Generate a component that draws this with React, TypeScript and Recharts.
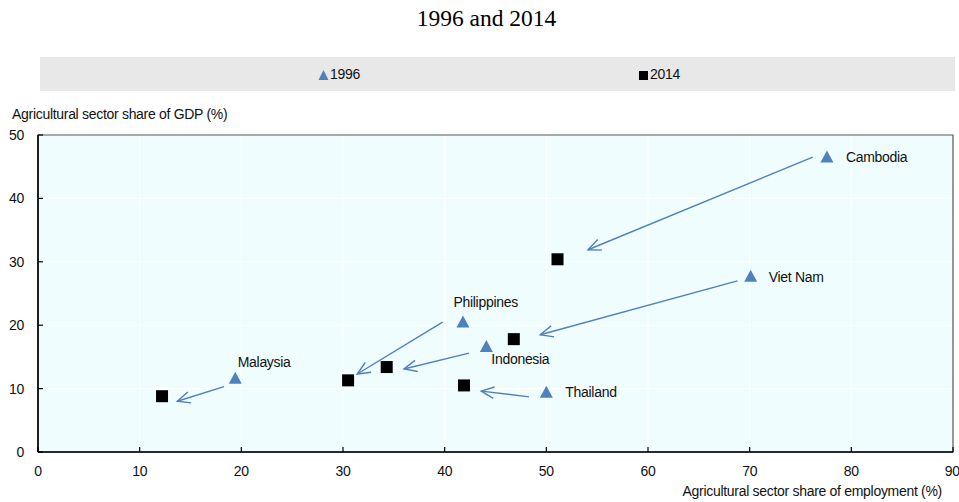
import React from 'react';
import {
  ScatterChart,
  Scatter,
  XAxis,
  YAxis,
  CartesianGrid,
  ReferenceLine,
  ReferenceArea,
} from 'recharts';

// agricultural share of employment (x) and of GDP (y), in %
const countries = ['Cambodia', 'Viet Nam', 'Philippines', 'Indonesia', 'Thailand', 'Malaysia'];
const emp1996 = [77.6, 70.1, 41.8, 44.1, 50.0, 19.4];
const gdp1996 = [46.6, 27.8, 20.6, 16.7, 9.5, 11.7];
const emp2014 = [51.1, 46.8, 30.5, 34.3, 41.9, 12.2];
const gdp2014 = [30.4, 17.8, 11.3, 13.4, 10.5, 8.8];

// arrows drawn from the 1996 point towards the 2014 point (data units)
const arrowTailX = [76.2, 68.8, 39.8, 42.4, 48.3, 18.3];
const arrowTailY = [46.5, 27.0, 20.5, 15.6, 8.7, 10.3];
const arrowHeadX = [54.1, 49.4, 31.4, 36.0, 43.6, 13.7];
const arrowHeadY = [31.9, 18.5, 12.3, 13.1, 9.6, 8.0];

const xTicks = [0, 10, 20, 30, 40, 50, 60, 70, 80, 90];
const yTicks = [0, 10, 20, 30, 40, 50];

const FONT = '"Liberation Sans", Arial, sans-serif';
const LS = -0.3; // squeeze to mimic the narrow face
const BLUE = '#4f81bd';

// where each country name sits relative to its 1996 marker
const labelPlace: Record<string, { dx: number; dy: number }> = {
  Cambodia: { dx: 19, dy: 5.5 },
  'Viet Nam': { dx: 18, dy: 6 },
  Philippines: { dx: -9.5, dy: -14.5 },
  Indonesia: { dx: 5, dy: 17.5 },
  Thailand: { dx: 19, dy: 5 },
  Malaysia: { dx: 2.5, dy: -11 },
};

const data1996 = countries.map((name, i) => ({ name, x: emp1996[i], y: gdp1996[i] }));
const data2014 = countries.map((name, i) => ({ name, x: emp2014[i], y: gdp2014[i] }));

const Triangle = (p: any) => {
  const { cx, cy, payload } = p;
  const pl = labelPlace[payload.name];
  return (
    <g>
      <path d={`M${cx},${cy - 6}L${cx + 6.5},${cy + 6}L${cx - 6.5},${cy + 6}Z`} fill={BLUE} />
      <text
        x={cx + pl.dx}
        y={cy + pl.dy}
        fontFamily={FONT}
        fontSize={14}
        fill="#111"
        style={{ letterSpacing: LS }}
      >
        {payload.name}
      </text>
    </g>
  );
};

const Square = (p: any) => {
  const { cx, cy } = p;
  return <rect x={cx - 6} y={cy - 6} width={12} height={12} fill="#000" />;
};

const Arrow = (p: any) => {
  const { x1, y1, x2, y2 } = p;
  const ang = Math.atan2(y1 - y2, x1 - x2);
  const len = 14;
  const spread = 0.42;
  const a1x = x2 + len * Math.cos(ang + spread);
  const a1y = y2 + len * Math.sin(ang + spread);
  const a2x = x2 + len * Math.cos(ang - spread);
  const a2y = y2 + len * Math.sin(ang - spread);
  return (
    <g fill="none" stroke={BLUE} strokeWidth={1.4}>
      <line x1={x1} y1={y1} x2={x2} y2={y2} />
      <polyline points={`${a1x},${a1y} ${x2},${y2} ${a2x},${a2y}`} />
    </g>
  );
};

const tickStyle = { fontFamily: FONT, fontSize: 14, fill: '#111', letterSpacing: LS, style: { letterSpacing: LS } };
const narrow = { fontFamily: FONT, fontSize: 14, color: '#111', whiteSpace: 'nowrap' as const, letterSpacing: LS };

const LegendMark = ({ kind }: { kind: 'tri' | 'sq' }) => (
  <svg width={11} height={10} style={{ display: 'inline-block', verticalAlign: '-1px', marginRight: 1 }}>
    {kind === 'tri' ? (
      <path d="M5.5,0L10.5,10L0.5,10Z" fill={BLUE} />
    ) : (
      <rect x={1} y={1} width={9} height={9} fill="#000" />
    )}
  </svg>
);

export default function App() {
  return (
    <div style={{ position: 'absolute', left: 0, top: 0, width: 959, height: 502, background: '#fff' }}>
      <div
        style={{
          position: 'absolute', left: 7, width: 959, top: 4, textAlign: 'center',
          fontFamily: '"Liberation Serif", "Times New Roman", serif', fontSize: 23.5, lineHeight: '28px', color: '#000',
        }}
      >
        1996 and 2014
      </div>
      <div style={{ position: 'absolute', left: 40, top: 57, width: 915, height: 34, background: '#e8e8e8' }}>
        <div style={{ ...narrow, position: 'absolute', left: 278, top: 8, lineHeight: '18px' }}>
          <LegendMark kind="tri" />1996
        </div>
        <div style={{ ...narrow, position: 'absolute', left: 598, top: 8, lineHeight: '18px' }}>
          <LegendMark kind="sq" />2014
        </div>
      </div>
      <div style={{ ...narrow, position: 'absolute', left: 12, top: 107, lineHeight: '14px' }}>
        Agricultural sector share of GDP (%)
      </div>
      <div style={{ ...narrow, position: 'absolute', right: 17, top: 484, lineHeight: '14px' }}>
        Agricultural sector share of employment (%)
      </div>
      <div style={{ position: 'absolute', left: 0, top: 0 }}>
        <ScatterChart width={959} height={502} margin={{ top: 135, right: 6, bottom: 0, left: 0 }}>
          <CartesianGrid fill="#f0fdfe" stroke="#ffffff" strokeWidth={1} />
          <ReferenceArea x1={0} x2={90} y1={0} y2={50} fill="none" stroke="#555" strokeWidth={1.2} ifOverflow="visible" />
          <XAxis
            type="number"
            dataKey="x"
            domain={[0, 90]}
            ticks={xTicks}
            allowDecimals={false}
            height={50}
            tickSize={-5}
            tickMargin={19}
            axisLine={{ stroke: '#000', strokeWidth: 1.6 }}
            tickLine={{ stroke: '#000', strokeWidth: 1.2 }}
            tick={tickStyle}
          />
          <YAxis
            type="number"
            dataKey="y"
            domain={[0, 50]}
            ticks={yTicks}
            width={38}
            tickSize={-5}
            tickMargin={19}
            axisLine={{ stroke: '#000', strokeWidth: 1.6 }}
            tickLine={{ stroke: '#000', strokeWidth: 1.2 }}
            tick={tickStyle}
          />
          {countries.map((c, i) => (
            <ReferenceLine
              key={c}
              segment={[
                { x: arrowTailX[i], y: arrowTailY[i] },
                { x: arrowHeadX[i], y: arrowHeadY[i] },
              ]}
              shape={Arrow}
              ifOverflow="visible"
            />
          ))}
          <Scatter name="2014" data={data2014} shape={Square} isAnimationActive={false} />
          <Scatter name="1996" data={data1996} shape={Triangle} isAnimationActive={false} />
        </ScatterChart>
      </div>
    </div>
  );
}
